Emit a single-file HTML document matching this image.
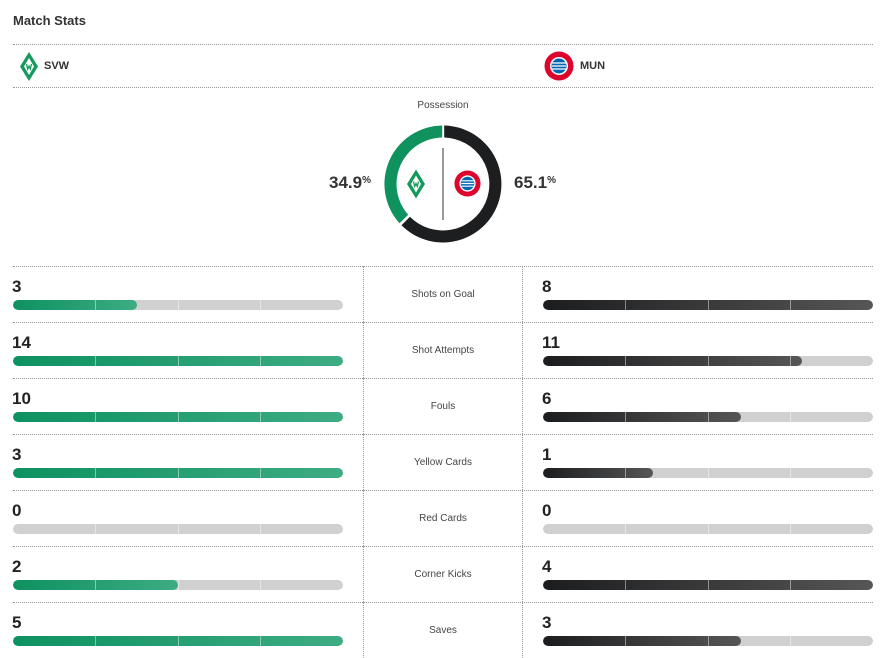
<!DOCTYPE html>
<html><head><style>
body{margin:0;width:884px;height:653px;background:#fff;font-family:"Liberation Sans",sans-serif;color:#2b2b2b;position:relative;overflow:hidden}
.a{position:absolute}
.hl{position:absolute;left:13px;width:860px;border-top:1px dotted #999;height:0}
.vl{position:absolute;width:0;border-left:1px dotted #999}
.num{position:absolute;font-weight:bold;font-size:17px;color:#222}
.bar{position:absolute;height:10px;width:330px;border-radius:5px;background:#cfd0cf;overflow:hidden}
.bar .f{position:absolute;left:0;top:0;height:10px;border-radius:5px}
.g{background:linear-gradient(90deg,#0e9160,#3dac83)}
.d{background:linear-gradient(90deg,#1c1d1f,#565656)}
.bar i{position:absolute;top:0;width:1px;height:10px;background:rgba(255,255,255,.45)}
.lab{position:absolute;left:363px;width:160px;text-align:center;font-size:10px;color:#444}
</style></head><body>
<div class="a" style="left:13px;top:13px;font-size:13px;font-weight:bold;color:#333">Match Stats</div>
<div class="hl" style="top:44px"></div>
<div class="hl" style="top:87px"></div>
<svg class="a" style="left:20px;top:52px" width="18" height="29" viewBox="0 0 18 29"><path d="M9 0L18 14.5 9 29 0 14.5Z" fill="#149a5c"/><path d="M9 6L14 14.5 9 23 4 14.5Z" fill="#fff"/><path d="M6.5 12l1.2 5 1.3-3 1.3 3 1.2-5" stroke="#149a5c" stroke-width="1.3" fill="none"/></svg>
<div class="a" style="left:44px;top:60px;font-size:11px;font-weight:bold;color:#333">SVW</div>
<svg class="a" style="left:544px;top:51px" width="30" height="30" viewBox="0 0 30 30"><circle cx="15" cy="15" r="14.5" fill="#dc052d"/><circle cx="15" cy="15" r="9" fill="#fff"/><circle cx="15" cy="15" r="7.5" fill="#0066b2"/><path d="M8 12h14M8 15h14M8 18h14" stroke="#fff" stroke-width="1.3"/></svg>
<div class="a" style="left:580px;top:60px;font-size:11px;font-weight:bold;color:#333">MUN</div>

<div class="a" style="left:363px;top:100px;width:160px;text-align:center;font-size:10px;color:#444">Possession</div>
<svg class="a" style="left:380px;top:121px" width="126" height="126" viewBox="0 0 126 126">
<g transform="translate(63,63)">
<path d="M1.2 -58.5 A58.5 58.5 0 1 1 -41.5 41.3 L-33.1 32.8 A46.5 46.5 0 1 0 1.2 -46.5Z" fill="#1d1e20"/>
<path d="M-0.8 -58.5 A58.5 58.5 0 0 0 -43.5 39.2 L-34.8 30.8 A46.5 46.5 0 0 1 -0.8 -46.5Z" fill="#0f925e"/>
<line x1="0" y1="-36" x2="0" y2="36" stroke="#333" stroke-width="1"/>
</g></svg>
<svg class="a" style="left:407px;top:169px" width="18" height="30" viewBox="0 0 18 29"><path d="M9 0L18 14.5 9 29 0 14.5Z" fill="#149a5c"/><path d="M9 6L14 14.5 9 23 4 14.5Z" fill="#fff"/><path d="M6.5 12l1.2 5 1.3-3 1.3 3 1.2-5" stroke="#149a5c" stroke-width="1.3" fill="none"/></svg>
<svg class="a" style="left:454px;top:170px" width="27" height="27" viewBox="0 0 30 30"><circle cx="15" cy="15" r="14.5" fill="#dc052d"/><circle cx="15" cy="15" r="9" fill="#fff"/><circle cx="15" cy="15" r="7.5" fill="#0066b2"/><path d="M8 12h14M8 15h14M8 18h14" stroke="#fff" stroke-width="1.3"/></svg>
<div class="a" style="left:300px;top:173px;width:71px;text-align:right;font-size:17px;font-weight:bold;color:#333">34.9<span style="font-size:10px;vertical-align:5px">%</span></div>
<div class="a" style="left:514px;top:173px;font-size:17px;font-weight:bold;color:#333">65.1<span style="font-size:10px;vertical-align:5px">%</span></div>

<div id="rows"></div>
<script>
var d=[["Shots on Goal",3,8],["Shot Attempts",14,11],["Fouls",10,6],["Yellow Cards",3,1],["Red Cards",0,0],["Corner Kicks",2,4],["Saves",5,3]];
var h='';
d.forEach(function(r,i){var y=266+i*56,m=Math.max(r[1],r[2]);
h+='<div class="hl" style="top:'+y+'px"></div>';
h+='<div class="vl" style="left:363px;top:'+y+'px;height:56px"></div><div class="vl" style="left:522px;top:'+y+'px;height:56px"></div>';
h+='<div class="num" style="left:12px;top:'+(y+11)+'px">'+r[1]+'</div><div class="num" style="left:542px;top:'+(y+11)+'px">'+r[2]+'</div>';
h+='<div class="lab" style="top:'+(y+23)+'px">'+r[0]+'</div>';
[[13,r[1],'g'],[543,r[2],'d']].forEach(function(b){var w=m?b[1]/m*330:0;
h+='<div class="bar" style="left:'+b[0]+'px;top:'+(y+34)+'px">'+(w?'<div class="f '+b[2]+'" style="width:'+w+'px"></div>':'')+'<i style="left:82px"></i><i style="left:165px"></i><i style="left:247px"></i></div>';});
});
document.getElementById('rows').innerHTML=h;
</script>
</body></html>
